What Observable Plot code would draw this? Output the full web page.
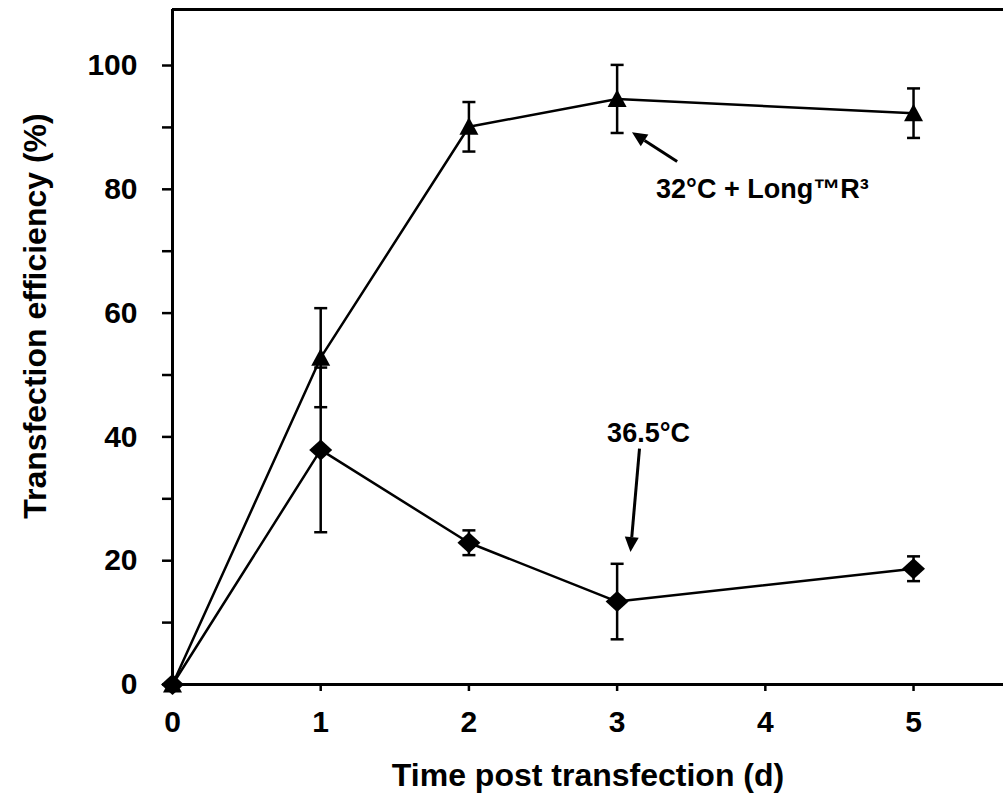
<!DOCTYPE html>
<html>
<head>
<meta charset="utf-8">
<script src="https://cdn.jsdelivr.net/npm/d3@7"></script>
<script src="https://cdn.jsdelivr.net/npm/@observablehq/plot@0.6"></script>
<style>
  html, body { margin: 0; padding: 0; background: #ffffff; }
  #chart { width: 1003px; height: 795px; }
</style>
</head>
<body>
<div id="chart"></div>
<script>
// ---- data ----
const days = [0, 1, 2, 3, 5];
const xTickValues = [0, 1, 2, 3, 4, 5];
const yTickValues = [0, 10, 20, 30, 40, 50, 60, 70, 80, 90, 100];
const yLabelStep = 20;

const seriesNames = ["32°C + Long™R³", "36.5°C"];
const longMean = [0, 52.8, 90.1, 94.6, 92.3];
const longSd   = [0, 8.0, 4.0, 5.5, 4.0];
const warmMean = [0, 37.9, 22.9, 13.4, 18.7];
const warmSd   = [0, 13.3, 2.0, 6.1, 2.0];

const xTitle = "Time post transfection (d)";
const yTitle = "Transfection efficiency (%)";

const labelText = ["32°C + Long™R³", "36.5°C"];
const labelX = [3.98, 3.212];
const labelY = [80.0, 40.6];
const arrowFromX = [3.405, 3.151];
const arrowFromY = [84.5, 38.1];
const arrowToX = [3.10, 3.09];
const arrowToY = [89.2, 21.4];

// ---- layout ----
const W = 1003, H = 795;
const ML = 172, MR = 0, MT = 9, MB = 111;
const xDomain = [0, 5.607];
const yDomain = [0, 109.05];

// ---- tables ----
const rows = [];
days.forEach((d, i) => {
  rows.push({series: seriesNames[0], day: d, mean: longMean[i], sd: longSd[i]});
});
days.forEach((d, i) => {
  rows.push({series: seriesNames[1], day: d, mean: warmMean[i], sd: warmSd[i]});
});
const errRows = rows.filter(r => r.sd > 0).map(r => ({...r, lo: r.mean - r.sd, hi: r.mean + r.sd}));
const capRows = errRows.flatMap(r => [{day: r.day, v: r.lo}, {day: r.day, v: r.hi}]);

const labels = labelText.map((t, i) => ({text: t, x: labelX[i], y: labelY[i]}));

// standalone scales (same as the chart) to orient arrow heads in pixel space
const sx = Plot.scale({x: {type: "linear", domain: xDomain, range: [ML, W - MR]}});
const sy = Plot.scale({y: {type: "linear", domain: yDomain, range: [H - MB, MT]}});
const HEAD_LEN = 15, HEAD_HALF = 7;
const arrows = arrowFromX.map((fx, i) => {
  const px1 = sx.apply(fx), py1 = sy.apply(arrowFromY[i]);
  const px2 = sx.apply(arrowToX[i]), py2 = sy.apply(arrowToY[i]);
  const len = Math.hypot(px2 - px1, py2 - py1);
  const ux = (px2 - px1) / len, uy = (py2 - py1) / len;
  const bx = px2 - ux * HEAD_LEN, by = py2 - uy * HEAD_LEN;
  return {
    x1: arrowFromX[i], y1: arrowFromY[i],
    bx: sx.invert(bx), by: sy.invert(by),
    symbol: {
      draw(ctx) {
        ctx.moveTo(ux * HEAD_LEN, uy * HEAD_LEN);
        ctx.lineTo(-uy * HEAD_HALF, ux * HEAD_HALF);
        ctx.lineTo(uy * HEAD_HALF, -ux * HEAD_HALF);
        ctx.closePath();
      }
    }
  };
});

// marker shapes
const triangleSymbol = {draw(ctx) { ctx.moveTo(0, -9.5); ctx.lineTo(9.5, 8); ctx.lineTo(-9.5, 8); ctx.closePath(); }};
const diamondSymbol = {draw(ctx) { ctx.moveTo(0, -10.5); ctx.lineTo(11.5, 0); ctx.lineTo(0, 10.5); ctx.lineTo(-11.5, 0); ctx.closePath(); }};
const capSymbol = {draw(ctx) { ctx.moveTo(-6.5, 0); ctx.lineTo(6.5, 0); }};

const FONT = "'Liberation Sans', Arial, Helvetica, sans-serif";

const chart = Plot.plot({
  width: W,
  height: H,
  marginLeft: ML,
  marginRight: MR,
  marginTop: MT,
  marginBottom: MB,
  style: {fontFamily: FONT, fontWeight: "bold", color: "#000", background: "#fff", overflow: "visible"},
  x: {type: "linear", domain: xDomain},
  y: {type: "linear", domain: yDomain},
  marks: [
    Plot.axisY(yTickValues, {
      tickSize: 10, tickPadding: 25, strokeWidth: 2.5, fontSize: 30, fontWeight: "bold",
      tickFormat: d => (d % yLabelStep === 0 ? String(d) : ""), label: null
    }),
    Plot.axisX(xTickValues, {
      tickSize: 7, tickPadding: 19, strokeWidth: 2.5, fontSize: 30, fontWeight: "bold",
      tickFormat: d => String(d), label: null
    }),
    // frame lines
    Plot.ruleX([xDomain[0]], {stroke: "#000", strokeWidth: 3}),
    Plot.ruleY([yDomain[0]], {stroke: "#000", strokeWidth: 3}),
    Plot.ruleY([yDomain[1]], {stroke: "#000", strokeWidth: 3}),
    // error bars
    Plot.ruleX(errRows, {x: "day", y1: "lo", y2: "hi", stroke: "#000", strokeWidth: 2.5}),
    Plot.dot(capRows, {x: "day", y: "v", symbol: capSymbol, r: 5, fill: "none", stroke: "#000", strokeWidth: 2.5}),
    // series lines
    Plot.line(rows, {x: "day", y: "mean", z: "series", stroke: "#000", strokeWidth: 2.5}),
    // markers
    Plot.dot(rows.filter(r => r.series === seriesNames[0]), {x: "day", y: "mean", symbol: triangleSymbol, r: 8, fill: "#000", stroke: "none"}),
    Plot.dot(rows.filter(r => r.series === seriesNames[1]), {x: "day", y: "mean", symbol: diamondSymbol, r: 8, fill: "#000", stroke: "none"}),
    // annotation arrows
    Plot.link(arrows, {x1: "x1", y1: "y1", x2: "bx", y2: "by", stroke: "#000", strokeWidth: 3}),
    ...arrows.map(a => Plot.dot([a], {x: "bx", y: "by", symbol: a.symbol, r: 8, fill: "#000", stroke: "none"})),
    // annotation labels
    Plot.text(labels, {x: "x", y: "y", text: "text", fontSize: 27, fontWeight: "bold", fill: "#000", textAnchor: "middle", lineAnchor: "middle"}),
    // axis titles
    Plot.text([xTitle], {frameAnchor: "bottom", dy: 79, lineAnchor: "top", textAnchor: "middle", fontSize: 32, fontWeight: "bold", fill: "#000"}),
    Plot.text([yTitle], {frameAnchor: "left", dx: -137, dy: -31, rotate: -90, lineAnchor: "middle", textAnchor: "middle", fontSize: 32, fontWeight: "bold", fill: "#000"})
  ]
});
document.getElementById("chart").appendChild(chart);
</script>
</body>
</html>
